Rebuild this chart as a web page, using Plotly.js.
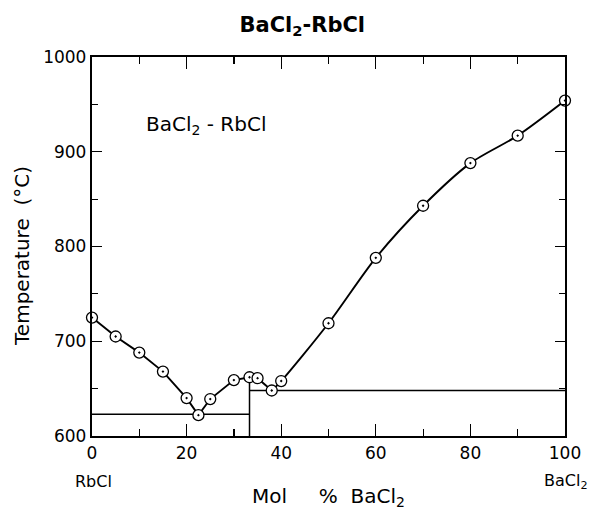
<!DOCTYPE html>
<html>
<head>
<meta charset="utf-8">
<script src="https://cdn.plot.ly/plotly-3.0.1.min.js"></script>
<style>
  html, body { margin: 0; padding: 0; background: #fff; }
  #chart { width: 595px; height: 510px; }
</style>
</head>
<body>
<div id="chart"></div>
<script>
// Liquidus measurements, BaCl2-RbCl system
const molPctBaCl2 = [0, 5, 10, 15, 20, 22.5, 25, 30, 33.3, 35, 38, 40, 50, 60, 70, 80, 90, 100];
const liquidusT   = [725, 705, 688, 668, 640, 622, 639, 659, 662, 661, 648, 658, 719, 788, 843, 888, 917, 954];

// Invariant lines
const eutecticT = 623;      // RbCl + compound eutectic
const peritecticT = 648;    // peritectic horizontal
const compoundX = 33.3;     // compound composition (vertical line)
const compoundTopT = 662;

// Split of the liquidus: straight segments on the RbCl side, smooth curve on the BaCl2 side
const splitIdx = molPctBaCl2.indexOf(38);

const xTicks = [0, 20, 40, 60, 80, 100];
const yTicks = [600, 700, 800, 900, 1000];

const FONT = 'DejaVu Sans, Liberation Sans, sans-serif';

const traces = [
  {
    x: molPctBaCl2.slice(0, splitIdx + 1),
    y: liquidusT.slice(0, splitIdx + 1),
    mode: 'lines', line: { color: '#000', width: 1.9 },
    hoverinfo: 'skip', showlegend: false
  },
  {
    x: molPctBaCl2.slice(splitIdx),
    y: liquidusT.slice(splitIdx),
    mode: 'lines', line: { color: '#000', width: 1.9, shape: 'spline', smoothing: 0.8 },
    hoverinfo: 'skip', showlegend: false
  },
  {
    x: [0, compoundX], y: [eutecticT, eutecticT],
    mode: 'lines', line: { color: '#000', width: 1.5 }, showlegend: false, hoverinfo: 'skip'
  },
  {
    x: [compoundX, 100], y: [peritecticT, peritecticT],
    mode: 'lines', line: { color: '#000', width: 1.5 }, showlegend: false, hoverinfo: 'skip'
  },
  {
    x: [compoundX, compoundX], y: [600, compoundTopT],
    mode: 'lines', line: { color: '#000', width: 1.5 }, showlegend: false, hoverinfo: 'skip'
  },
  {
    x: molPctBaCl2, y: liquidusT,
    mode: 'markers', cliponaxis: false,
    marker: { symbol: 'circle-dot', size: 11, color: '#fff', line: { color: '#000', width: 1.3 } },
    showlegend: false
  }
];

const layout = {
  width: 595, height: 510,
  margin: { l: 92, r: 30, t: 57, b: 74 },
  paper_bgcolor: '#fff', plot_bgcolor: '#fff',
  font: { family: FONT, color: '#000' },
  title: {
    text: '<b>BaCl<sub>2</sub>-RbCl</b>',
    font: { family: FONT, size: 21, color: '#000' },
    x: 0.508, xanchor: 'center', y: 0.952, yanchor: 'middle'
  },
  xaxis: {
    range: [0, 100], tickvals: xTicks, ticktext: xTicks.map(String),
    ticks: 'inside', ticklen: 12, tickwidth: 1.3, tickcolor: '#000',
    minor: { dtick: 10, ticks: 'inside', ticklen: 7, tickwidth: 1.2, tickcolor: '#000' },
    showline: true, linecolor: '#000', linewidth: 2.2, mirror: 'ticks',
    showgrid: false, zeroline: false,
    tickfont: { family: FONT, size: 17, color: '#000' },
    title: { text: 'Mol &nbsp; &nbsp; % &nbsp;BaCl<sub>2</sub>', font: { family: FONT, size: 20, color: '#000' }, standoff: 28 }
  },
  yaxis: {
    range: [600, 1000], tickvals: yTicks, ticktext: yTicks.map(String),
    ticks: 'inside', ticklen: 10, tickwidth: 1.3, tickcolor: '#000',
    minor: { dtick: 50, ticks: 'inside', ticklen: 6, tickwidth: 1.2, tickcolor: '#000' },
    showline: true, linecolor: '#000', linewidth: 2.2, mirror: 'ticks',
    showgrid: false, zeroline: false,
    tickfont: { family: FONT, size: 17, color: '#000' }
  },
  annotations: [
    {
      x: 0, y: 790, xref: 'paper', yref: 'y', xanchor: 'center', yanchor: 'middle',
      xshift: -70, textangle: -90, text: 'Temperature &nbsp;(°C)', showarrow: false,
      font: { family: FONT, size: 20, color: '#000' }
    },
    {
      x: 11, y: 928, xref: 'x', yref: 'y', xanchor: 'left', yanchor: 'middle',
      text: 'BaCl<sub>2</sub> - RbCl', showarrow: false,
      font: { family: FONT, size: 20, color: '#000' }
    },
    {
      x: 0, y: 0, xref: 'x', yref: 'paper', xanchor: 'center', yanchor: 'middle',
      xshift: 1, yshift: -45, text: 'RbCl', showarrow: false,
      font: { family: FONT, size: 16, color: '#000' }
    },
    {
      x: 100, y: 0, xref: 'x', yref: 'paper', xanchor: 'center', yanchor: 'middle',
      xshift: 1, yshift: -45, text: 'BaCl<sub>2</sub>', showarrow: false,
      font: { family: FONT, size: 16, color: '#000' }
    }
  ]
};

Plotly.newPlot('chart', traces, layout, { staticPlot: true, displayModeBar: false });
</script>
</body>
</html>
